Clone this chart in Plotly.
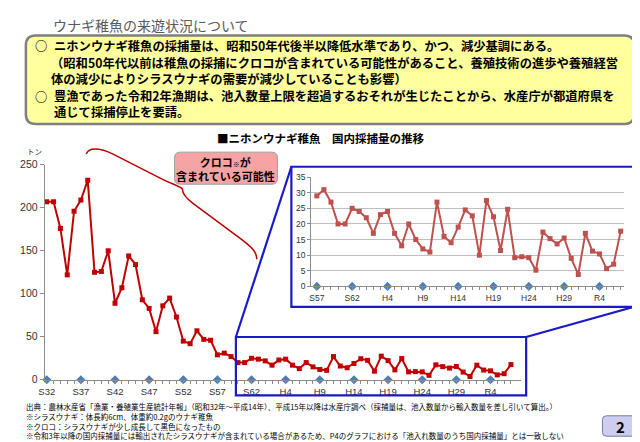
import plotly.graph_objects as go

# data (tonnes, fishing seasons S32 .. R7)
years = list(range(1957, 2026))
catch_tonnes = [
    207, 207, 176, 122, 196, 209, 232, 125, 126, 150,
    89, 107, 144, 134, 93, 83, 56, 86, 95, 73,
    45, 42, 57, 47, 46,
    29, 31, 27, 20, 20, 25, 24, 22, 17, 23,
    24, 17, 13, 20, 15, 12, 11, 27, 16, 14,
    19, 24.5, 22.6, 10, 27.5, 22.3, 11.5, 24.7, 9.2, 9.5,
    9.2, 5.2, 17.4, 15.3, 13.6, 15.5, 9.0, 3.8, 17, 11.3,
    10.4, 5.7, 7.1, 17.7,
]
tick_labels = ["S32", "S37", "S42", "S47", "S52", "S57", "S62",
               "H4", "H9", "H14", "H19", "H24", "H29", "R4"]
label_years = [1957 + 5 * i for i in range(len(tick_labels))]
inset_start = 1982
main_yticks = [0, 50, 100, 150, 200, 250]
inset_yticks = [0, 5, 10, 15, 20, 25, 30, 35]

W, H = 640, 442
JP = "Noto Sans CJK JP"


def px(x):
    return x / W


def py(y):
    return 1 - y / H


def path(points, close=False):
    s = "M " + " L ".join(f"{px(x)},{py(y)}" for x, y in points)
    return s + (" Z" if close else "")


def rounded_rect(x0, y0, x1, y1, r):
    s = f"M {px(x0 + r)},{py(y0)} L {px(x1 - r)},{py(y0)} "
    s += f"Q {px(x1)},{py(y0)} {px(x1)},{py(y0 + r)} L {px(x1)},{py(y1 - r)} "
    s += f"Q {px(x1)},{py(y1)} {px(x1 - r)},{py(y1)} L {px(x0 + r)},{py(y1)} "
    s += f"Q {px(x0)},{py(y1)} {px(x0)},{py(y1 - r)} L {px(x0)},{py(y0 + r)} "
    s += f"Q {px(x0)},{py(y0)} {px(x0 + r)},{py(y0)} Z"
    return s


def tick_text(first_year):
    out = []
    for y in years:
        if y < first_year:
            continue
        out.append(tick_labels[label_years.index(y)] if y in label_years else "")
    return out


inset_years = [y for y in years if y >= inset_start]
inset_values = catch_tonnes[years.index(inset_start):]
inset_label_years = [y for y in label_years if y >= inset_start]

fig = go.Figure()

# main series
fig.add_trace(go.Scatter(x=years, y=catch_tonnes, mode="lines+markers",
                         line=dict(color="#C00000", width=2),
                         marker=dict(symbol="square", size=5, color="#C00000"),
                         cliponaxis=False, xaxis="x", yaxis="y"))
fig.add_trace(go.Scatter(x=label_years, y=[0] * len(label_years), mode="markers",
                         marker=dict(symbol="diamond", size=7, color="#4A7EBB"),
                         cliponaxis=False, xaxis="x", yaxis="y"))

# inset series
fig.add_trace(go.Scatter(x=inset_years, y=inset_values, mode="lines+markers",
                         line=dict(color="#C0504D", width=2),
                         marker=dict(symbol="square", size=5, color="#C0504D"),
                         cliponaxis=False, xaxis="x2", yaxis="y2"))
fig.add_trace(go.Scatter(x=inset_label_years, y=[0] * len(inset_label_years), mode="markers",
                         marker=dict(symbol="diamond", size=7, color="#4A7EBB"),
                         cliponaxis=False, xaxis="x2", yaxis="y2"))

axis_common = dict(showline=True, linecolor="#8C8C8C", ticks="outside", tickcolor="#8C8C8C",
                   zeroline=False, fixedrange=True)

shapes = [
    # yellow message box
    dict(type="path", path=rounded_rect(12, 22, 626, 113, 10), xref="paper", yref="paper",
         fillcolor="#FFFF9E", line=dict(color="#7F7F7F", width=2.5), layer="below"),
    # pink note box
    dict(type="path", path=rounded_rect(162, 142, 266, 175, 6), xref="paper", yref="paper",
         fillcolor="#F5A3A3", line=dict(color="#A0A0A0", width=1), layer="above"),
    # brace
    dict(type="path", xref="paper", yref="paper", line=dict(color="#C00000", width=1.5),
         path=(f"M {px(73)},{py(144)} C {px(75)},{py(137)} {px(86)},{py(137)} {px(100)},{py(144)} "
               f"L {px(150)},{py(170)} C {px(162)},{py(176)} {px(168)},{py(177)} {px(170)},{py(180)} "
               f"C {px(170)},{py(185)} {px(173)},{py(189)} {px(181)},{py(195)} "
               f"L {px(230)},{py(232)} C {px(240)},{py(240)} {px(245)},{py(244)} {px(245)},{py(252)}")),
    # inset background
    dict(type="rect", xref="paper", yref="paper", x0=px(280), x1=px(626), y0=py(301), y1=py(157),
         fillcolor="white", line=dict(width=0), layer="below"),
    # blue zoom frames
    dict(type="rect", xref="paper", yref="paper", x0=px(280), x1=px(626), y0=py(301), y1=py(157),
         line=dict(color="#1A1AC8", width=2.2)),
    dict(type="rect", xref="paper", yref="paper", x0=px(224), x1=px(517), y0=py(392), y1=py(332),
         line=dict(color="#1A1AC8", width=2.2)),
    dict(type="path", xref="paper", yref="paper", path=path([(224, 332), (280, 157)]),
         line=dict(color="#1A1AC8", width=2.2)),
    dict(type="path", xref="paper", yref="paper", path=path([(517, 332), (626, 301)]),
         line=dict(color="#1A1AC8", width=2.2)),
    # page number button
    dict(type="path", path=rounded_rect(594, 413, 630, 434, 4), xref="paper", yref="paper",
         fillcolor="#CDCDF0", line=dict(color="#7A7A9A", width=1)),
    # dark frame at right and bottom
    dict(type="rect", xref="paper", yref="paper", x0=px(633), x1=1, y0=0, y1=1,
         fillcolor="#2B2B2B", line=dict(width=0)),
    dict(type="rect", xref="paper", yref="paper", x0=0, x1=1, y0=0, y1=py(440),
         fillcolor="#2B2B2B", line=dict(width=0)),
]


def note(x, y, text, size, color="#000000", bold=False, anchor="left"):
    if bold:
        text = f"<b>{text}</b>"
    return dict(x=px(x), y=py(y), xref="paper", yref="paper", text=text, showarrow=False,
                xanchor=anchor, yanchor="middle", align=anchor,
                font=dict(family=JP, size=size, color=color))


footnotes = "<br>".join([
    "出典：農林水産省「漁業・養殖業生産統計年報」（昭和32年～平成14年）、平成15年以降は水産庁調べ（採捕量は、池入数量から輸入数量を差し引いて算出。）",
    "※シラスウナギ：体長約6cm、体重約0.2gのウナギ稚魚",
    "※クロコ：シラスウナギが少し成長して黒色になったもの",
    "※令和3年以降の国内採捕量には輸出されたシラスウナギが含まれている場合があるため、P4のグラフにおける「池入れ数量のうち国内採捕量」とは一致しない",
])

annotations = [
    note(37, 11, "ウナギ稚魚の来遊状況について", 14, color="#595959"),
    note(19, 33, "○", 12.3, bold=True),
    note(38, 33, "ニホンウナギ稚魚の採捕量は、昭和50年代後半以降低水準であり、かつ、減少基調にある。", 12.3, bold=True),
    note(35, 59, "（昭和50年代以前は稚魚の採捕にクロコが含まれている可能性があること、養殖技術の進歩や養殖経営<br>"
                 "体の減少によりシラスウナギの需要が減少していることも影響）", 12.3, bold=True),
    note(19, 85, "○", 12.3, bold=True),
    note(38, 93, "豊漁であった令和2年漁期は、池入数量上限を超過するおそれが生じたことから、水産庁が都道府県を<br>"
                 "通じて採捕停止を要請。", 12.3, bold=True),
    note(203, 127, "■ニホンウナギ稚魚　国内採捕量の推移", 11.5, bold=True),
    note(214, 159, "クロコ<span style='font-size:7px'>※</span>が<br>含まれている可能性", 11, bold=True,
         anchor="center"),
    note(11, 141, "トン", 7.5, color="#333333"),
    note(10, 418, footnotes, 7.5),
    note(612, 423.5, "2", 15, bold=True, anchor="center"),
]

fig.update_layout(
    width=W, height=H, margin=dict(l=0, r=0, t=0, b=0),
    paper_bgcolor="white", plot_bgcolor="rgba(0,0,0,0)",
    showlegend=False,
    font=dict(family=JP, color="#333333"),
    shapes=shapes, annotations=annotations,
    xaxis=dict(domain=[px(31), px(512)], range=[1956.7, 2026.5], anchor="y",
               tickvals=years, ticktext=tick_text(1957), ticklen=3,
               tickfont=dict(size=9.5, family="Liberation Sans", color="#333333"),
               showgrid=False, **axis_common),
    yaxis=dict(domain=[py(376), py(155)], range=[0, 250], anchor="x",
               tickvals=main_yticks, ticklen=4, showgrid=False,
               tickfont=dict(size=10.5, family="Liberation Sans", color="#333333"),
               **axis_common),
    xaxis2=dict(domain=[px(300), px(616)], range=[1981.2, 2025.5], anchor="y2",
                tickvals=inset_years, ticktext=tick_text(inset_start), ticklen=3,
                tickfont=dict(size=8.5, family="Liberation Sans", color="#333333"),
                showgrid=False, **axis_common),
    yaxis2=dict(domain=[py(280), py(167.7)], range=[0, 35], anchor="x2",
                tickvals=inset_yticks, ticklen=3, showgrid=True, gridcolor="#BFBFBF",
                tickfont=dict(size=8.5, family="Liberation Sans", color="#333333"),
                **axis_common),
)

fig.write_html("out.html", config=dict(displayModeBar=False))
